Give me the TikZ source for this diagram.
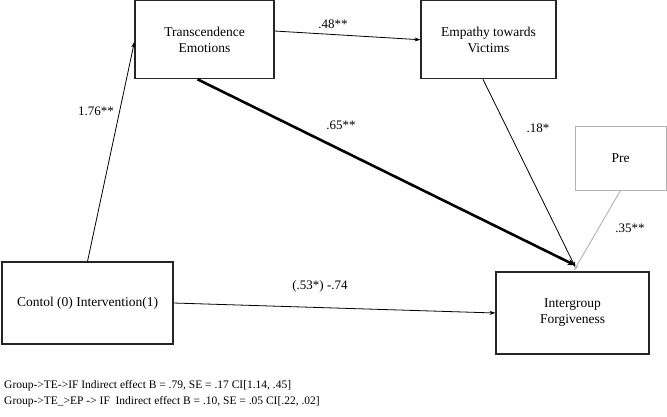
\documentclass[tikz,border=0pt]{standalone}
\usepackage{fontspec}
\setmainfont{Liberation Serif}
\usetikzlibrary{arrows.meta}
\begin{document}
\begin{tikzpicture}[x=1pt,y=-1pt,
  box/.style={draw=black!85,line width=1.1pt,rectangle,inner sep=0pt,align=center,font=\fontsize{13.5}{16}\selectfont},
  greybox/.style={draw=black!30,line width=0.9pt,rectangle,inner sep=0pt,align=center,font=\fontsize{13.5}{16}\selectfont},
  conn/.style={line width=0.8pt,-{Stealth[length=6pt,width=4pt]}},
  thickconn/.style={line width=2.6pt,-{Stealth[length=8pt,width=6pt]}},
  greyconn/.style={draw=black!30,line width=0.9pt,-{Stealth[length=6pt,width=4pt]}},
  lab/.style={font=\fontsize{13}{15}\selectfont,inner sep=0pt},
  foot/.style={font=\fontsize{11.5}{14}\selectfont,inner sep=0pt,anchor=west}]
\useasboundingbox (0,0) rectangle (667,416);
\node[box,minimum width=139pt,minimum height=78pt] (TE) at (204.5,39.75) {Transcendence\\Emotions};
\node[box,minimum width=135pt,minimum height=78pt] (EV) at (488.5,39.75) {Empathy towards\\Victims};
\node[greybox,minimum width=91pt,minimum height=64pt] (Pre) at (620.5,158) {Pre};
\node[box,minimum width=171pt,minimum height=82pt] (C) at (87.5,303) {Contol (0) Intervention(1)};
\node[box,minimum width=153pt,minimum height=82pt] (IF) at (572.5,313) {Intergroup\\Forgiveness};
\draw[conn] (C.north) -- ([yshift=-2pt]TE.west);
\draw[conn] ([yshift=8.75pt]TE.east) -- (EV.west);
\draw[thickconn] ([xshift=-7pt]TE.south) -- ([shift={(3pt,6pt)}]IF.north);
\draw[conn] ([xshift=-5.5pt]EV.south) -- ([shift={(3pt,4pt)}]IF.north);
\draw[greyconn] (Pre.south) -- ([shift={(1.5pt,1pt)}]IF.north);
\draw[conn] (C.east) -- (IF.west);
\node[lab] (l1) at (96,111) {1.76**};
\node[lab] (l2) at (333,24) {.48**};
\node[lab] (l3) at (341,125) {.65**};
\node[lab] (l4) at (538,128) {.18*};
\node[lab] (l5) at (630,228) {.35**};
\node[lab] (l6) at (320,286) {(.53*) -.74};
\node[foot] (f1) at (4,386) {Group->TE->IF Indirect effect B = .79, SE = .17 CI[1.14, .45]};
\node[foot] (f2) at (4,402) {Group->TE\_>EP -> IF\ \ Indirect effect B = .10, SE = .05 CI[.22, .02]};
\end{tikzpicture}
\end{document}
